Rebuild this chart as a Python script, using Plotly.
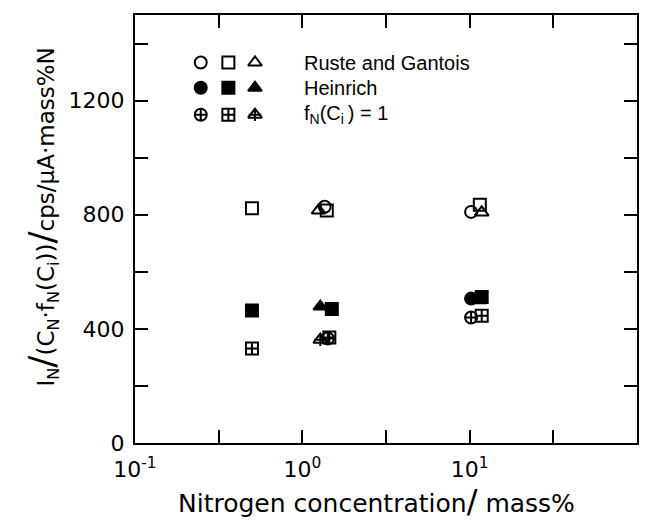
import plotly.graph_objects as go

# ---- data ----
rg_circle_x = [1.36, 10.2]
rg_circle_y = [828, 810]
rg_square_x = [0.5, 1.40, 11.5]
rg_square_y = [823, 815, 835]
rg_tri_x = [1.25, 11.8]
rg_tri_y = [815, 808]

he_circle_x = [10.2]
he_circle_y = [506]
he_square_x = [0.5, 1.5, 11.8]
he_square_y = [464, 470, 512]
he_tri_x = [1.28, 11.5]
he_tri_y = [478, 500]

f1_circle_x = [1.42, 10.2]
f1_circle_y = [366, 440]
f1_square_x = [0.5, 1.45, 11.8]
f1_square_y = [331, 370, 446]
f1_tri_x = [1.28]
f1_tri_y = [362]

legend_labels = ["Ruste and Gantois", "Heinrich", "f<sub>N</sub>(C<sub>i </sub>) = 1"]
x_tickvals = [0.1, 0.316, 1, 3.16, 10, 31.6, 100]
x_ticktext = ["10<sup>-1</sup>", "", "10<sup>0</sup>", "", "10<sup>1</sup>", "", "10<sup>2</sup>"]
y_tickvals = [0, 200, 400, 600, 800, 1000, 1200, 1400]
y_ticktext = ["0", "", "400", "", "800", "", "1200", ""]

BLACK = "black"
MS = 12
LW = 2

fig = go.Figure()


def add(x, y, symbol, xa="x", ya="y", size=MS):
    fig.add_trace(go.Scatter(
        x=x, y=y, mode="markers", xaxis=xa, yaxis=ya,
        marker=dict(symbol=symbol, size=size, color=BLACK,
                    line=dict(color=BLACK, width=LW)),
        showlegend=False, hoverinfo="skip"))


def crossed_tri(x, y, xa="x", ya="y"):
    add(x, y, "triangle-up-open", xa, ya)
    add(x, y, "cross-thin-open", xa, ya, size=9)


# data marks
add(rg_square_x, rg_square_y, "square-open")
add(rg_circle_x, rg_circle_y, "circle-open")
add(rg_tri_x, rg_tri_y, "triangle-up-open")
add(he_square_x, he_square_y, "square")
add(he_circle_x, he_circle_y, "circle")
add(he_tri_x, he_tri_y, "triangle-up")
add(f1_square_x, f1_square_y, "square-cross-open")
add(f1_circle_x, f1_circle_y, "circle-cross-open")
crossed_tri(f1_tri_x, f1_tri_y)

# legend (drawn on an overlay axis in plot-fraction units)
leg_x = [0.131, 0.186, 0.239]
leg_y = [0.889, 0.830, 0.767]
add([leg_x[0]], [leg_y[0]], "circle-open", "x2", "y2")
add([leg_x[1]], [leg_y[0]], "square-open", "x2", "y2")
add([leg_x[2]], [leg_y[0]], "triangle-up-open", "x2", "y2")
add([leg_x[0]], [leg_y[1]], "circle", "x2", "y2")
add([leg_x[1]], [leg_y[1]], "square", "x2", "y2")
add([leg_x[2]], [leg_y[1]], "triangle-up", "x2", "y2")
add([leg_x[0]], [leg_y[2]], "circle-cross-open", "x2", "y2")
add([leg_x[1]], [leg_y[2]], "square-cross-open", "x2", "y2")
crossed_tri([leg_x[2]], [leg_y[2]], "x2", "y2")

for lab, yy in zip(legend_labels, leg_y):
    fig.add_annotation(x=0.333, y=yy, xref="x2", yref="y2", text=lab,
                       showarrow=False, xanchor="left", yanchor="middle",
                       font=dict(family="Liberation Sans", size=20, color=BLACK))

axis_font = dict(family="DejaVu Sans", size=22, color=BLACK)

# axis titles as annotations
fig.add_annotation(
    x=-0.185, y=0.527, xref="paper", yref="paper", textangle=-90,
    text=("I<sub>N</sub><span style='font-size:36px'>/</span>(C<sub>N</sub>·f<sub>N</sub>(C<sub>i</sub>))"
          "<span style='font-size:36px'>/</span>cps/μA·mass%N"),
    showarrow=False, xanchor="center", yanchor="middle",
    font=dict(family="DejaVu Sans", size=23, color=BLACK))
fig.add_annotation(
    x=0.482, y=-0.136, xref="paper", yref="paper",
    text="Nitrogen concentration<span style='font-size:32px'>/</span> mass%",
    showarrow=False, xanchor="center", yanchor="middle",
    font=dict(family="DejaVu Sans", size=25, color=BLACK))

fig.update_layout(
    width=646, height=515,
    margin=dict(l=127, r=17, t=5, b=80),
    paper_bgcolor="white", plot_bgcolor="white",
    xaxis=dict(
        type="log", range=[-1, 2], tickmode="array",
        tickvals=x_tickvals, ticktext=x_ticktext,
        ticks="inside", ticklen=13, tickwidth=2, tickcolor=BLACK,
        showline=True, linewidth=2, linecolor=BLACK, mirror="ticks",
        showgrid=False, zeroline=False, tickfont=axis_font,
        ticklabelstandoff=6,
    ),
    yaxis=dict(
        range=[0, 1500], tickmode="array",
        tickvals=y_tickvals, ticktext=y_ticktext,
        ticks="inside", ticklen=13, tickwidth=2, tickcolor=BLACK,
        showline=True, linewidth=2, linecolor=BLACK, mirror="ticks",
        showgrid=False, zeroline=False, tickfont=axis_font,
        ticklabelstandoff=4,
    ),
    xaxis2=dict(overlaying="x", range=[0, 1], visible=False, domain=[0, 1]),
    yaxis2=dict(overlaying="y", range=[0, 1], visible=False),
)

fig.write_html("out.html")
